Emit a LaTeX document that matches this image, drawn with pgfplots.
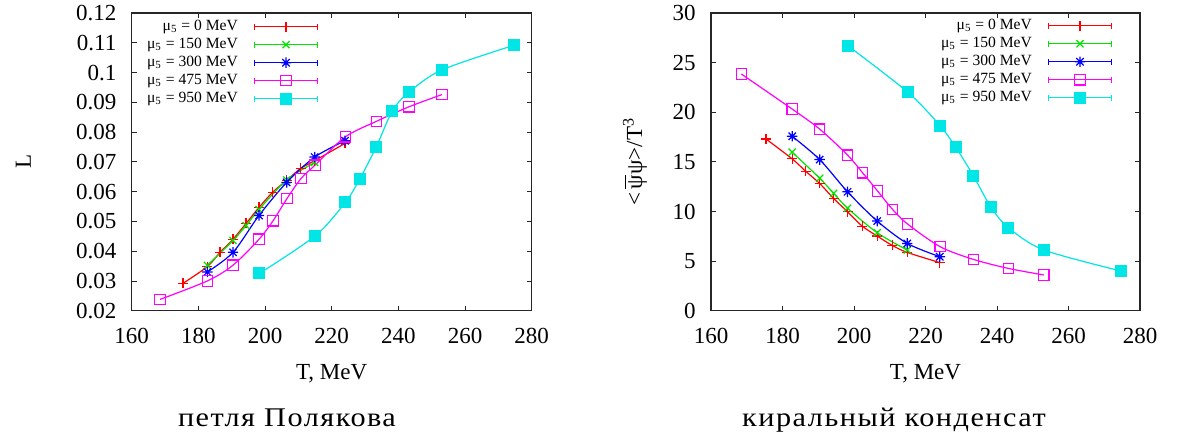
\documentclass[border=0pt]{standalone}
\usepackage{fontspec}
\setmainfont{Liberation Serif}
\newfontfamily\capfont[LetterSpace=5]{Liberation Serif}
\usepackage{pgfplots}
\pgfplotsset{compat=1.18}

\definecolor{gpred}{rgb}{1,0,0}
\definecolor{gpgreen}{rgb}{0,0.9,0}
\definecolor{gpblue}{rgb}{0,0,1}
\definecolor{gpmag}{rgb}{1,0,1}
\definecolor{gpcyan}{rgb}{0,0.9,0.9}

\pgfdeclareplotmark{gpstar}{%
  \pgfpathmoveto{\pgfqpoint{-\pgfplotmarksize}{0pt}}\pgfpathlineto{\pgfqpoint{\pgfplotmarksize}{0pt}}%
  \pgfpathmoveto{\pgfqpoint{0pt}{-\pgfplotmarksize}}\pgfpathlineto{\pgfqpoint{0pt}{\pgfplotmarksize}}%
  \pgfpathmoveto{\pgfqpoint{-0.707\pgfplotmarksize}{-0.707\pgfplotmarksize}}\pgfpathlineto{\pgfqpoint{0.707\pgfplotmarksize}{0.707\pgfplotmarksize}}%
  \pgfpathmoveto{\pgfqpoint{-0.707\pgfplotmarksize}{0.707\pgfplotmarksize}}\pgfpathlineto{\pgfqpoint{0.707\pgfplotmarksize}{-0.707\pgfplotmarksize}}%
  \pgfusepathqstroke}

\pgfplotsset{
  gpbase/.style={
    scale only axis,
    height=148.85pt,
    xmin=160, xmax=280,
    xtick={160,180,200,220,240,260,280},
    axis line style={line width=0.65pt, black!85},
    major tick style={line width=0.4pt, black!85},
    major tick length=2.5pt,
    tick align=inside,
    /pgf/number format/assume math mode=true,
    tick label style={font=\fontsize{11.5}{12}\selectfont},
    xticklabel style={anchor=base, yshift=-16.3pt, inner sep=0pt},
    yticklabel style={anchor=east, xshift=-7.5pt, inner sep=0pt},
    label style={font=\fontsize{11.5}{13}\selectfont},
    xlabel={T, MeV},
    xlabel style={at={(axis description cs:0.5,0)}, anchor=base, yshift=-34.3pt, inner sep=0pt},
    legend cell align=right,
    legend plot pos=right,
    legend style={draw=none, fill=none, inner sep=0pt, outer sep=0pt,
      row sep=1pt, column sep=8pt,
      nodes={inner sep=0pt, text height=6pt, text depth=2pt, font=\fontsize{7.8}{9}\selectfont}},
    legend image code/.code={%
      \draw[mark repeat=2,mark phase=2] plot coordinates {(0pt,0pt) (15.75pt,0pt) (31.5pt,0pt)};
      \draw[solid] (0pt,-1.5pt) -- (0pt,1.5pt) (31.5pt,-1.5pt) -- (31.5pt,1.5pt);
    },
    every axis plot/.append style={line width=0.6pt, smooth, tension=0.5},
  },
  sred/.style={color=gpred, mark=+, mark size=2.5pt, mark options={solid, line width=0.6pt}},
  sgreen/.style={color=gpgreen, mark=x, mark size=2.5pt, mark options={solid, line width=0.6pt}},
  sblue/.style={color=gpblue, mark=gpstar, mark size=2.6pt, mark options={solid, line width=0.6pt}},
  smag/.style={color=gpmag, mark=square, mark size=2.6pt, mark options={solid, line width=0.6pt}},
  scyan/.style={color=gpcyan, mark=square*, mark size=2.7pt, mark options={solid, fill=gpcyan, draw=gpcyan}},
}

\begin{document}
\begin{tikzpicture}
\useasboundingbox (0,0) rectangle (590pt,217pt);

\begin{axis}[gpbase,
  at={(65.85pt,61.65pt)}, anchor=south west, width=200pt,
  ymin=0.02, ymax=0.12,
  ytick={0.02,0.03,0.04,0.05,0.06,0.07,0.08,0.09,0.1,0.11,0.12},
  scaled y ticks=false,
  yticklabel style={/pgf/number format/fixed, /pgf/number format/precision=2},
  ylabel={L},
  ylabel style={at={(axis description cs:0,0.5)}, anchor=center, yshift=54.2pt},
  legend style={at={(0.466,0.981)}, anchor=north east},
]
\addplot[sred] coordinates {(175.4,0.0292) (182.7,0.0348) (186.5,0.0396) (190.4,0.0440) (194.3,0.0493) (198.2,0.0547) (202.3,0.0598) (206.5,0.0638) (210.7,0.0678) (214.9,0.0704) (224.0,0.0762)};
\addlegendentry{μ\textsubscript{5} = 0 MeV}
\addplot[sgreen] coordinates {(182.7,0.0352) (190.4,0.0436) (194.3,0.0486) (198.2,0.0540) (206.5,0.0639) (214.9,0.0698)};
\addlegendentry{μ\textsubscript{5} = 150 MeV}
\addplot[sblue] coordinates {(182.7,0.0330) (190.4,0.0396) (198.2,0.0520) (206.5,0.0631) (214.9,0.0716) (224.0,0.0771)};
\addlegendentry{μ\textsubscript{5} = 300 MeV}
\addplot[smag] coordinates {(168.5,0.0238) (182.7,0.0300) (190.4,0.0353) (198.2,0.0440) (202.4,0.0502) (206.6,0.0577) (210.8,0.0644) (215.0,0.0689) (224.1,0.0784) (233.4,0.0836) (243.2,0.0885) (253.1,0.0926)};
\addlegendentry{μ\textsubscript{5} = 475 MeV}
\addplot[scyan] coordinates {(198.3,0.0325) (215.1,0.0452) (224.1,0.0564) (228.5,0.0644) (233.4,0.0751) (238.2,0.0871) (243.2,0.0934) (253.1,0.1009) (274.8,0.1092)};
\addlegendentry{μ\textsubscript{5} = 950 MeV}
\end{axis}

\begin{axis}[gpbase,
  at={(355.5pt,61.65pt)}, anchor=south west, width=214.5pt,
  ymin=0, ymax=30,
  ytick={0,5,10,15,20,25,30},
  ylabel={<\,\ensuremath{\overline{\mbox{ψ}}}ψ>/T\textsuperscript{3}},
  ylabel style={at={(axis description cs:0,0.5)}, anchor=center, yshift=38pt},
  legend style={at={(0.935,0.984)}, anchor=north east},
]
\addplot[sred] coordinates {(175.4,17.3) (182.7,15.3) (186.5,14.05) (190.4,12.82) (194.3,11.31) (198.2,9.97) (202.3,8.52) (206.5,7.52) (210.7,6.58) (214.9,5.87) (224.0,4.85)};
\addlegendentry{μ\textsubscript{5} = 0 MeV}
\addplot[sgreen] coordinates {(182.7,15.98) (190.4,13.35) (194.3,11.83) (198.2,10.33) (206.5,7.85) (214.9,6.11)};
\addlegendentry{μ\textsubscript{5} = 150 MeV}
\addplot[sblue] coordinates {(182.7,17.58) (190.4,15.23) (198.2,11.98) (206.5,9.03) (214.9,6.78) (224.0,5.44)};
\addlegendentry{μ\textsubscript{5} = 300 MeV}
\addplot[smag] coordinates {(168.5,23.85) (182.7,20.32) (190.4,18.3) (198.2,15.68) (202.4,13.9) (206.6,12.06) (210.8,10.2) (215.0,8.73) (224.1,6.45) (233.4,5.17) (243.2,4.26) (253.1,3.6)};
\addlegendentry{μ\textsubscript{5} = 475 MeV}
\addplot[scyan] coordinates {(198.3,26.7) (215.1,22.0) (224.1,18.63) (228.5,16.45) (233.4,13.6) (238.2,10.48) (243.2,8.37) (253.1,6.12) (274.8,3.99)};
\addlegendentry{μ\textsubscript{5} = 950 MeV}
\end{axis}

\node[anchor=base, inner sep=0pt, font=\capfont\fontsize{13.5}{15}\selectfont] at (143.5pt,3.65pt) {\scalebox{1.12}[1]{петля Полякова}};
\node[anchor=base, inner sep=0pt, font=\capfont\fontsize{13.5}{15}\selectfont] at (447pt,3.65pt) {\scalebox{1.12}[1]{киральный конденсат}};
\end{tikzpicture}
\end{document}
